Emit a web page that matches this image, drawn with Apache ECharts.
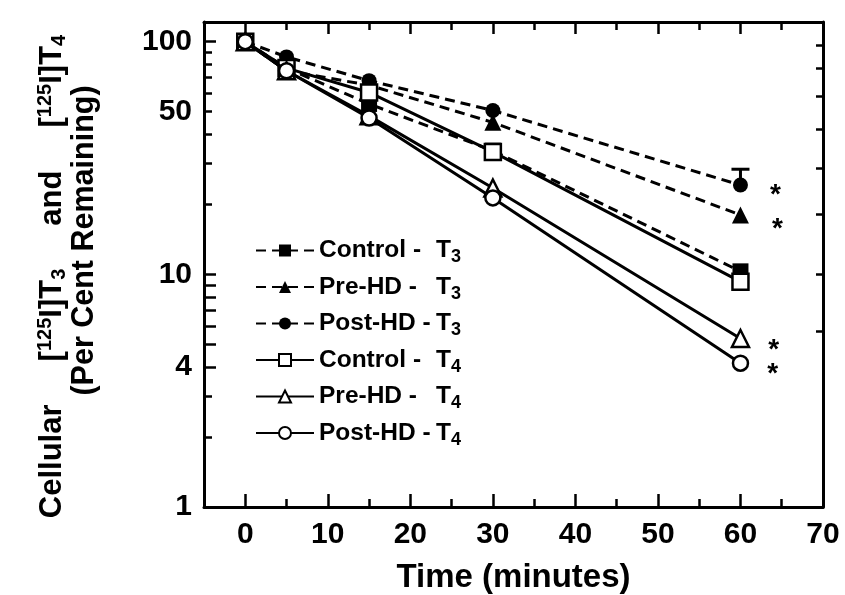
<!DOCTYPE html>
<html>
<head>
<meta charset="utf-8">
<script src="https://cdn.jsdelivr.net/npm/echarts@6/dist/echarts.min.js"></script>
<style>html,body{margin:0;padding:0;background:#fff}#c{width:845px;height:595px}</style>
</head>
<body>
<div id="c"></div>
<script>
// ---- data ----
const times = [0, 5, 15, 30, 60];
const seriesNames = ['Control - T3', 'Pre-HD - T3', 'Post-HD - T3', 'Control - T4', 'Pre-HD - T4', 'Post-HD - T4'];
const legendNames = ['Control -', 'Pre-HD -', 'Post-HD -', 'Control -', 'Pre-HD -', 'Post-HD -'];
const legendSubs = ['3', '3', '3', '4', '4', '4'];
const controlT3 = [100, 77, 54, 34, 10.3];
const preHdT3 = [100, 75, 65, 45, 18];
const postHdT3 = [100, 86, 68, 50.6, 24.2];
const controlT4 = [100, 77, 60.5, 33.6, 9.3];
const preHdT4 = [100, 75, 48, 23.5, 5.3];
const postHdT4 = [100, 75, 47, 21.3, 4.15];
const postHdT3ErrorTop = [null, null, null, null, 28.3];
const significant = [false, true, true, false, true, true];
const xTickLabels = [0, 10, 20, 30, 40, 50, 60, 70];
const yTickLabels = [1, 4, 10, 50, 100];

// ---- styling ----
const allValues = [controlT3, preHdT3, postHdT3, controlT4, preHdT4, postHdT4];
const symbols = ['rect', 'triangle', 'circle', 'rect', 'triangle', 'circle'];
const symbolSizes = [16, 17, 15, 16, 17, 15];
const filled = [true, true, true, false, false, false];
const dashed = [true, true, true, false, false, false];
const starOffset = [[0, 0], [13, 14], [12, 10], [0, 0], [8, 12], [8, 11]];
const FONT = '"Liberation Sans", Arial, sans-serif';

const series = allValues.map((vals, i) => ({
  name: seriesNames[i],
  type: 'line',
  symbol: symbols[i],
  symbolSize: symbolSizes[i],
  z: 3 + i,
  lineStyle: { color: '#000', width: 3, type: dashed[i] ? [10, 6] : 'solid' },
  itemStyle: { color: filled[i] ? '#000' : '#fff', borderColor: '#000', borderWidth: filled[i] ? 0 : 2.5 },
  emphasis: { disabled: true },
  data: vals.map((v, j) => {
    const item = { value: [times[j], v] };
    if (significant[i] && j === vals.length - 1) {
      item.label = {
        show: true, formatter: '*', position: 'right', distance: 10,
        offset: starOffset[i], color: '#000', fontSize: 28, fontWeight: 'bold', fontFamily: FONT
      };
    }
    return item;
  })
}));

series.push({
  name: 'errorbar',
  type: 'custom',
  z: 2,
  data: postHdT3.map((v, j) => [times[j], v, postHdT3ErrorTop[j]]).filter(d => d[2] != null),
  renderItem: function (params, api) {
    const p0 = api.coord([api.value(0), api.value(1)]);
    const p1 = api.coord([api.value(0), api.value(2)]);
    return {
      type: 'group',
      children: [
        { type: 'line', shape: { x1: p0[0], y1: p0[1], x2: p1[0], y2: p1[1] }, style: { stroke: '#000', lineWidth: 3 } },
        { type: 'line', shape: { x1: p1[0] - 9, y1: p1[1], x2: p1[0] + 9, y2: p1[1] }, style: { stroke: '#000', lineWidth: 3 } }
      ]
    };
  }
});

const tickStyle = { color: '#000', width: 2.5 };
const xShort = [0, 5, 10, 15, 20, 25, 30, 35, 40, 45, 50, 55, 60, 65];
const xLong = [0, 10, 20, 30, 40, 50, 60];
const yLong = [1, 4, 5, 6, 7, 8, 9, 10, 100];
const yShort = [2, 3, 20, 30, 40, 50, 60, 70, 80, 90];
const yRight = [97, 77, 58, 42, 28.7, 18.2, 10, 5.7];
const yMax = 121.5;

function xAx(pos, ticks, len, showLine, showLabel) {
  return {
    type: 'value', position: pos, min: -5, max: 70, interval: 5,
    splitLine: { show: false },
    axisLine: { show: showLine, onZero: false, lineStyle: { color: '#000', width: 3 } },
    axisTick: { show: true, inside: true, length: len, customValues: ticks, lineStyle: tickStyle },
    axisLabel: showLabel ? { show: true, customValues: xTickLabels, margin: 13, color: '#000', fontSize: 30, fontWeight: 'bold', fontFamily: FONT } : { show: false },
    name: showLabel ? 'Time (minutes)' : '',
    nameLocation: 'middle', nameGap: 54,
    nameTextStyle: { color: '#000', fontSize: 33, fontWeight: 'bold', fontFamily: FONT }
  };
}
function yAx(pos, ticks, len, showLine, showLabel) {
  return {
    type: 'log', logBase: 10, position: pos, min: 1, max: yMax,
    splitLine: { show: false }, minorTick: { show: false },
    axisLine: { show: showLine, onZero: false, lineStyle: { color: '#000', width: 3 } },
    axisTick: { show: true, inside: true, length: len, customValues: ticks, lineStyle: tickStyle },
    axisLabel: showLabel ? { show: true, customValues: yTickLabels, margin: 12, color: '#000', fontSize: 30, fontWeight: 'bold', fontFamily: FONT } : { show: false }
  };
}

const yAxes = [
  yAx('left', yLong, 12, true, true),
  yAx('left', yShort, 8, false, false),
  yAx('right', yRight, 7, true, false)
];
const richTitle = {
  t: { fontSize: 31, fontWeight: 'bold', fontFamily: FONT, color: '#000', lineHeight: 34 },
  sup: { fontSize: 20, fontWeight: 'bold', fontFamily: FONT, color: '#000', verticalAlign: 'top', lineHeight: 34, padding: [0, 0, 10, 0] },
  sub: { fontSize: 20, fontWeight: 'bold', fontFamily: FONT, color: '#000', verticalAlign: 'bottom', lineHeight: 34, padding: [8, 0, 0, 0] }
};
Object.assign(yAxes[0], {
  name: '{t|Cellular     [}{sup|125}{t|I]T}{sub|3}{t|     and     [}{sup|125}{t|I]T}{sub|4}',
  nameLocation: 'middle', nameRotate: 90, nameGap: 135,
  nameTextStyle: { color: '#000', fontWeight: 'bold', fontFamily: FONT, fontSize: 31, align: 'center', padding: [0, 24, 0, 0], rich: richTitle }
});
Object.assign(yAxes[1], {
  name: '{t|(Per Cent Remaining)}',
  nameLocation: 'middle', nameRotate: 90, nameGap: 102,
  nameTextStyle: { color: '#000', fontWeight: 'bold', fontFamily: FONT, fontSize: 30.5, align: 'center', padding: [0, 0, 0, 48],
    rich: { t: { fontSize: 30.5, fontWeight: 'bold', fontFamily: FONT, color: '#000', lineHeight: 34 } } }
});

const legendRich = {
  n: { width: 117, fontSize: 24.5, fontWeight: 'bold', fontFamily: FONT, color: '#000', lineHeight: 32 },
  t: { fontSize: 24.5, fontWeight: 'bold', fontFamily: FONT, color: '#000', lineHeight: 32 },
  s: { fontSize: 18, fontWeight: 'bold', fontFamily: FONT, color: '#000', lineHeight: 32, verticalAlign: 'bottom', padding: [9, 0, 0, 0] }
};

const option = {
  animation: false,
  backgroundColor: '#fff',
  grid: { left: 204, top: 22, width: 619, height: 485, containLabel: false, outerBoundsMode: 'none' },
  xAxis: [
    xAx('bottom', xShort, 8, true, true),
    xAx('bottom', xLong, 13, false, false),
    xAx('top', xShort, 8, true, false),
    xAx('top', xLong, 12, false, false)
  ],
  yAxis: yAxes,
  legend: {
    data: seriesNames,
    orient: 'vertical', left: 250, top: 233,
    itemWidth: 58, itemHeight: 15, itemGap: 8,
    selectedMode: false,
    formatter: function (name) {
      const i = seriesNames.indexOf(name);
      return '{n|' + legendNames[i] + '}{t|T}{s|' + legendSubs[i] + '}';
    },
    textStyle: { color: '#000', fontWeight: 'bold', fontFamily: FONT, fontSize: 24.5, rich: legendRich }
  },
  series: series
};

const chart = echarts.init(document.getElementById('c'), null, { renderer: 'canvas' });
chart.setOption(option);
</script>
</body>
</html>
